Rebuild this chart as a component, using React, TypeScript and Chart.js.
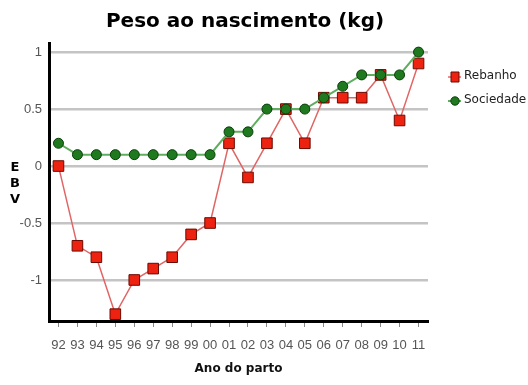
import React, { useEffect, useRef } from "react";
import { Chart, registerables } from "chart.js";

Chart.register(...registerables);

const categories = ["92", "93", "94", "95", "96", "97", "98", "99", "00", "01", "02", "03", "04", "05", "06", "07", "08", "09", "10", "11"];
const rebanho = [0, -0.7, -0.8, -1.3, -1.0, -0.9, -0.8, -0.6, -0.5, 0.2, -0.1, 0.2, 0.5, 0.2, 0.6, 0.6, 0.6, 0.8, 0.4, 0.9];
const sociedade = [0.2, 0.1, 0.1, 0.1, 0.1, 0.1, 0.1, 0.1, 0.1, 0.3, 0.3, 0.5, 0.5, 0.5, 0.6, 0.7, 0.8, 0.8, 0.8, 1.0];
const yTicks = [-1, -0.5, 0, 0.5, 1];
const seriesNames = ["Rebanho", "Sociedade"];
const titleText = "Peso ao nascimento (kg)";
const yTitleLetters = ["E", "B", "V"];
const xTitleText = "Ano do parto";

const TICK_FONT = { family: "'Liberation Sans', Arial, sans-serif", size: 13 };

const textPlugin = {
  id: "extraTexts",
  afterDraw(chart: any) {
    const ctx = chart.ctx;
    ctx.save();
    ctx.fillStyle = "#000";
    ctx.textAlign = "center";
    ctx.textBaseline = "middle";
    ctx.font = "bold 20px 'DejaVu Sans', Verdana, sans-serif";
    ctx.fillText(titleText, 245, 22);
    ctx.font = "bold 13px 'DejaVu Sans', Verdana, sans-serif";
    yTitleLetters.forEach((l, i) => ctx.fillText(l, 15, 168 + i * 16));
    ctx.restore();
  },
};

const legendPlugin = {
  id: "customLegend",
  afterDraw(chart: any) {
    const ctx = chart.ctx;
    ctx.save();
    chart.data.datasets.forEach((ds: any, i: number) => {
      const y = 77 + i * 24;
      const cx = 455;
      ctx.strokeStyle = ds.borderColor;
      ctx.lineWidth = ds.borderWidth;
      ctx.beginPath();
      ctx.moveTo(cx - 7, y);
      ctx.lineTo(cx + 6, y);
      ctx.stroke();
      ctx.fillStyle = ds.pointBackgroundColor;
      ctx.strokeStyle = ds.pointBorderColor;
      ctx.lineWidth = 1;
      ctx.beginPath();
      if (ds.pointStyle === "rect") {
        ctx.rect(cx - 4, y - 5, 8, 10);
      } else {
        ctx.arc(cx, y, 4.2, 0, Math.PI * 2);
      }
      ctx.fill();
      ctx.stroke();
      ctx.fillStyle = "#222";
      ctx.font = "12px 'DejaVu Sans', Verdana, sans-serif";
      ctx.textAlign = "left";
      ctx.textBaseline = "middle";
      ctx.fillText(ds.label, 464, y - 1);
    });
    ctx.restore();
  },
};

export default function App() {
  const ref = useRef<HTMLCanvasElement | null>(null);
  useEffect(() => {
    if (!ref.current) return;
    const chart = new Chart(ref.current, {
      type: "line",
      data: {
        labels: categories,
        datasets: [
          {
            label: seriesNames[0],
            data: rebanho,
            borderColor: "#e06666",
            borderWidth: 1.5,
            pointStyle: "rect",
            pointRadius: 7.5,
            pointBackgroundColor: "#ee2211",
            pointBorderColor: "#6a0a00",
            pointBorderWidth: 1,
            order: 1,
          } as any,
          {
            label: seriesNames[1],
            data: sociedade,
            borderColor: "#5fae5f",
            borderWidth: 2,
            pointStyle: "circle",
            pointRadius: 5,
            pointBackgroundColor: "#1f7a1f",
            pointBorderColor: "#0b3d0b",
            pointBorderWidth: 1,
            order: 0,
          } as any,
        ],
      },
      options: {
        responsive: false,
        animation: false,
        layout: { padding: { top: 43, right: 100, bottom: 0, left: 0 } },
        plugins: {
          legend: { display: false },
          title: { display: false },
          tooltip: { enabled: false },
        },
        scales: {
          x: {
            type: "category",
            offset: true,
            afterFit: (s: any) => { s.height = 64; },
            grid: { drawOnChartArea: false, offset: false, tickLength: 6, tickColor: "#888", tickWidth: 1 },
            border: { display: true, color: "#000", width: 3 },
            ticks: { font: TICK_FONT, color: "#555", padding: 11, maxRotation: 0, autoSkip: false },
            title: {
              display: true,
              text: xTitleText,
              color: "#111",
              font: { family: "'DejaVu Sans', Verdana, sans-serif", size: 12, weight: "bold" },
              padding: { top: 4, bottom: 9 },
            },
          },
          y: {
            min: -1.36,
            max: 1.08,
            afterFit: (s: any) => { s.width = 49; },
            afterBuildTicks: (s: any) => { s.ticks = yTicks.map((v) => ({ value: v })); },
            grid: { color: "#c4c4c4", lineWidth: 2.5, drawTicks: false },
            border: { display: true, color: "#000", width: 3 },
            ticks: { font: TICK_FONT, color: "#555", padding: 7, callback: (v: any) => String(v) },
          },
        },
      } as any,
      plugins: [textPlugin, legendPlugin],
    });
    return () => chart.destroy();
  }, []);
  return (
    <div style={{ position: "fixed", left: 0, top: 0, width: 528, height: 385, background: "#fff" }}>
      <canvas ref={ref} width={528} height={385} style={{ display: "block" }} />
    </div>
  );
}
